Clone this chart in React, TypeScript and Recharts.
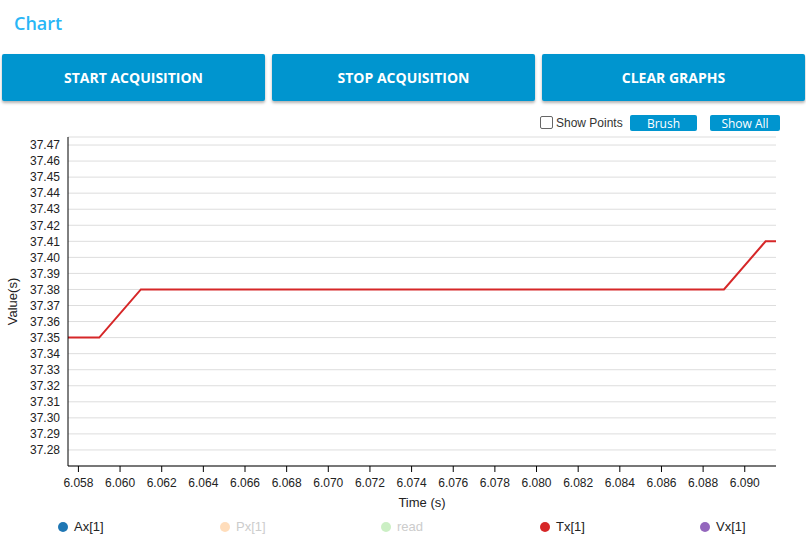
import React from 'react';
import { LineChart, Line, XAxis, YAxis, CartesianGrid } from 'recharts';

const times = [6.057, 6.058, 6.059, 6.061, 6.07, 6.08, 6.089, 6.091, 6.092];
const txValues = [37.35, 37.35, 37.35, 37.38, 37.38, 37.38, 37.38, 37.41, 37.41];
const xTicks = [6.058, 6.06, 6.062, 6.064, 6.066, 6.068, 6.07, 6.072, 6.074, 6.076, 6.078, 6.08, 6.082, 6.084, 6.086, 6.088, 6.09];
const yTicks = [37.28, 37.29, 37.3, 37.31, 37.32, 37.33, 37.34, 37.35, 37.36, 37.37, 37.38, 37.39, 37.4, 37.41, 37.42, 37.43, 37.44, 37.45, 37.46, 37.47];
const legendItems = [
  { name: 'Ax[1]', color: '#1f77b4', active: true, x: 58 },
  { name: 'Px[1]', color: '#ffbb78', active: false, x: 220 },
  { name: 'read', color: '#98df8a', active: false, x: 381 },
  { name: 'Tx[1]', color: '#d62728', active: true, x: 540 },
  { name: 'Vx[1]', color: '#9467bd', active: true, x: 700 },
];

const data = times.map((t, i) => ({ t, tx: txValues[i] }));

const buttonStyle: React.CSSProperties = {
  position: 'absolute', top: 54, width: 263, height: 47, background: '#0095cf',
  color: '#fff', fontWeight: 700, fontSize: 14, display: 'flex', alignItems: 'center',
  justifyContent: 'center', borderRadius: 2, boxShadow: '0 2px 3px rgba(0,0,0,0.3)',
};
const smallBtn: React.CSSProperties = {
  position: 'absolute', top: 115, height: 16, background: '#0095cf', color: '#fff',
  fontSize: 12, display: 'flex', alignItems: 'center', justifyContent: 'center', borderRadius: 2,
};
const tickFont = { fill: '#222', fontSize: 12, fontFamily: '"Liberation Sans", Arial' };

export default function App() {
  return (
    <div style={{ position: 'absolute', left: 0, top: 0, width: 806, height: 540, fontFamily: '"Open Sans", sans-serif', background: '#fff', overflow: 'hidden' }}>
      <div style={{ position: 'absolute', left: 14, top: 11, fontSize: 18, fontWeight: 600, color: '#29b6f6' }}>Chart</div>
      <div style={{ ...buttonStyle, left: 2 }}>START ACQUISITION</div>
      <div style={{ ...buttonStyle, left: 272 }}>STOP ACQUISITION</div>
      <div style={{ ...buttonStyle, left: 542 }}>CLEAR GRAPHS</div>
      <div style={{ position: 'absolute', left: 540, top: 116, width: 11, height: 11, border: '1px solid #666', borderRadius: 2 }} />
      <div style={{ position: 'absolute', left: 556, top: 116, fontSize: 12, color: '#333', fontFamily: '"Liberation Sans", Arial' }}>Show Points</div>
      <div style={{ ...smallBtn, left: 630, width: 67 }}>Brush</div>
      <div style={{ ...smallBtn, left: 710, width: 70 }}>Show All</div>
      <div style={{ position: 'absolute', left: 0, top: 130 }}>
        <LineChart width={806} height={380} data={data} margin={{ top: 7, right: 30, bottom: 0, left: 0 }}>
          <CartesianGrid vertical={false} stroke="#ddd" />
          <XAxis dataKey="t" type="number" domain={[6.0575, 6.0915]} allowDataOverflow ticks={xTicks} interval={0}
            tickFormatter={(v: number) => v.toFixed(3)} height={44} tickMargin={6} stroke="#000"
            tick={tickFont}
            label={{ value: 'Time (s)', position: 'insideBottom', offset: 3, fill: '#222', fontSize: 13, fontFamily: '"Liberation Sans", Arial' }} />
          <YAxis type="number" domain={[37.27, 37.475]} allowDataOverflow ticks={yTicks} interval={0} width={68}
            tickFormatter={(v: number) => v.toFixed(2)} tickLine={false} stroke="#000"
            tick={tickFont}
            label={{ value: 'Value(s)', angle: -90, position: 'insideLeft', offset: 12, fill: '#222', fontSize: 13, fontFamily: '"Liberation Sans", Arial', style: { textAnchor: 'middle' } }} />
          <Line type="linear" dataKey="tx" stroke="#d62728" strokeWidth={2} dot={false} isAnimationActive={false} />
        </LineChart>
      </div>
      {legendItems.map((it) => (
        <div key={it.name} style={{ position: 'absolute', left: it.x, top: 519, display: 'flex', alignItems: 'center', fontSize: 13, fontFamily: '"Liberation Sans", Arial', color: it.active ? '#222' : '#ccc' }}>
          <span style={{ width: 10, height: 10, borderRadius: 5, background: it.color, opacity: it.active ? 1 : 0.5, marginRight: 6, display: 'inline-block' }} />
          {it.name}
        </div>
      ))}
    </div>
  );
}
